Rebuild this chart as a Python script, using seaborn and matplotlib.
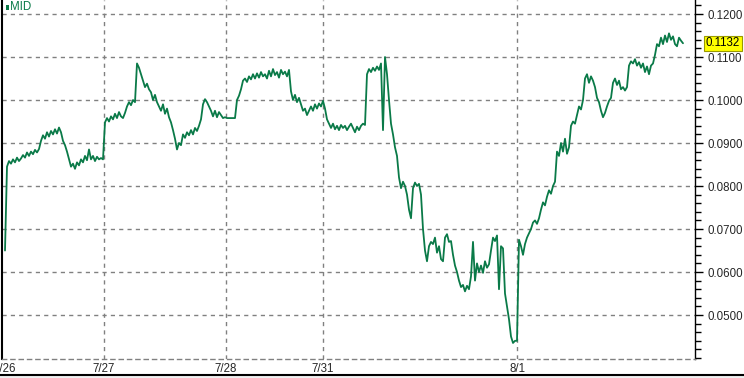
import numpy as np
import pandas as pd
import matplotlib
matplotlib.use("Agg")
import matplotlib.pyplot as plt
import matplotlib.transforms as mtransforms
from matplotlib import font_manager
from matplotlib.patches import Rectangle
from matplotlib.lines import Line2D
import seaborn as sns

# ---------------- data ----------------
series_name = "MID"
date_labels = ["7/26", "7/27", "7/28", "7/31", "8/1"]
date_positions = [0, 49.5, 110.5, 159, 256]   # sample index where each day starts
last_value = 0.1132
y_ticks = [0.05, 0.06, 0.07, 0.08, 0.09, 0.10, 0.11, 0.12]

mid = [
    0.0650, 0.0845, 0.0858, 0.0852, 0.0862, 0.0855, 0.0866, 0.0858, 0.0864, 0.0872,
    0.0866, 0.0878, 0.0870, 0.0880, 0.0874, 0.0884, 0.0878, 0.0886, 0.0905, 0.0918,
    0.0910, 0.0925, 0.0915, 0.0928, 0.0920, 0.0932, 0.0922, 0.0936, 0.0925, 0.0905,
    0.0895, 0.0880, 0.0862, 0.0845, 0.0852, 0.0840, 0.0855, 0.0848, 0.0862, 0.0855,
    0.0870, 0.0860, 0.0885, 0.0862, 0.0870, 0.0858, 0.0868, 0.0862, 0.0865, 0.0862,
    0.0948, 0.0958, 0.0950, 0.0962, 0.0955, 0.0968, 0.0958, 0.0972, 0.0962, 0.0958,
    0.0970, 0.0985, 0.0995, 0.0988, 0.1000, 0.0995, 0.1085, 0.1075, 0.1060, 0.1045,
    0.1030, 0.1038, 0.1025, 0.1018, 0.1000, 0.1012, 0.0995, 0.0985, 0.0975, 0.0990,
    0.0968, 0.0980, 0.0960, 0.0948, 0.0930, 0.0910, 0.0885, 0.0900, 0.0895, 0.0920,
    0.0912, 0.0925, 0.0918, 0.0930, 0.0920, 0.0935, 0.0928, 0.0940, 0.0955, 0.0990,
    0.1002, 0.0995, 0.0985, 0.0975, 0.0962, 0.0975, 0.0960, 0.0972, 0.0965, 0.0958,
    0.0960, 0.0958, 0.0958, 0.0958, 0.0958, 0.0958, 0.1000, 0.1010, 0.1025, 0.1045,
    0.1050, 0.1042, 0.1055, 0.1048, 0.1060, 0.1050, 0.1062, 0.1052, 0.1065, 0.1055,
    0.1060, 0.1050, 0.1068, 0.1055, 0.1072, 0.1058, 0.1065, 0.1052, 0.1070, 0.1060,
    0.1066, 0.1055, 0.1070, 0.1020, 0.1000, 0.1012, 0.0995, 0.1005, 0.0990, 0.0975,
    0.0980, 0.0965, 0.0975, 0.0985, 0.0975, 0.0990, 0.0980, 0.0992, 0.0985, 0.0998,
    0.0980, 0.0955, 0.0945, 0.0935, 0.0945, 0.0932, 0.0940, 0.0930, 0.0942, 0.0935,
    0.0940, 0.0930, 0.0938, 0.0945, 0.0935, 0.0925, 0.0938, 0.0930, 0.0940, 0.0945,
    0.0942, 0.1060, 0.1072, 0.1065, 0.1075, 0.1068, 0.1078, 0.1070, 0.1085, 0.0930,
    0.1100, 0.1060, 0.1000, 0.0945, 0.0920, 0.0890, 0.0870, 0.0820, 0.0795, 0.0810,
    0.0800, 0.0780, 0.0745, 0.0725, 0.0795, 0.0808, 0.0800, 0.0805, 0.0780, 0.0700,
    0.0650, 0.0625, 0.0660, 0.0670, 0.0665, 0.0680, 0.0645, 0.0660, 0.0630, 0.0625,
    0.0680, 0.0688, 0.0670, 0.0672, 0.0640, 0.0615, 0.0600, 0.0580, 0.0565, 0.0570,
    0.0555, 0.0568, 0.0560, 0.0590, 0.0670, 0.0580, 0.0620, 0.0600, 0.0615, 0.0598,
    0.0625, 0.0610, 0.0618, 0.0650, 0.0680, 0.0672, 0.0685, 0.0560, 0.0660, 0.0655,
    0.0550, 0.0520, 0.0490, 0.0450, 0.0435, 0.0440, 0.0440, 0.0675, 0.0660, 0.0640,
    0.0665, 0.0680, 0.0690, 0.0700, 0.0715, 0.0720, 0.0712, 0.0725, 0.0745, 0.0762,
    0.0755, 0.0775, 0.0790, 0.0782, 0.0800, 0.0810, 0.0880, 0.0870, 0.0900, 0.0880,
    0.0910, 0.0875, 0.0890, 0.0940, 0.0950, 0.0945, 0.0965, 0.0985, 0.0978, 0.1000,
    0.1050, 0.1060, 0.1040, 0.1055, 0.1045, 0.1030, 0.1005, 0.0995, 0.0975, 0.0960,
    0.0970, 0.0985, 0.0998, 0.1005, 0.1040, 0.1050, 0.1035, 0.1045, 0.1025, 0.1030,
    0.1022, 0.1030, 0.1080, 0.1090, 0.1085, 0.1095, 0.1080, 0.1088, 0.1075, 0.1085,
    0.1065, 0.1078, 0.1060, 0.1080, 0.1085, 0.1105, 0.1130, 0.1125, 0.1145, 0.1130,
    0.1150, 0.1135, 0.1155, 0.1140, 0.1148, 0.1130, 0.1125, 0.1145, 0.1138, 0.1132,
]

df = pd.DataFrame({"t": np.arange(len(mid)), "mid": mid})

# ---------------- style ----------------
sns.set_style("white")
avail = {f.name for f in font_manager.fontManager.ttflist}
if "Liberation Sans Narrow" in avail:
    fam, fs = "Liberation Sans Narrow", 10
else:
    fam, fs = "Liberation Sans", 8.3
plt.rcParams["font.family"] = [fam, "DejaVu Sans"]

line_color = "#0a7a48"
grid_color = "#808080"
W, H = 744, 378

fig = plt.figure(figsize=(W / 100, H / 100), dpi=100)
ax = fig.add_axes([2 / W, 19 / H, (695 - 2) / W, (359 - 0) / H])

sns.lineplot(data=df, x="t", y="mid", ax=ax, color=line_color, linewidth=1.3,
             legend=False, estimator=None)

ax.set_xlim(-1.5, 345)
ax.set_ylim(0.03977, 0.12326)

# grid
for yv in y_ticks:
    ax.axhline(yv, color=grid_color, lw=1.0, ls=(0, (3, 3)), zorder=0)
for xv in date_positions[1:]:
    ax.axvline(xv, color=grid_color, lw=1.0, ls=(0, (3, 3)), zorder=0)

# y axis on right
ax.yaxis.tick_right()
ax.set_yticks(y_ticks)
ax.set_yticklabels([f"{v:.4f}" for v in y_ticks], fontsize=fs)
ax.set_yticks(np.arange(0.040, 0.1235, 0.002), minor=True)
ax.tick_params(axis="y", which="major", direction="out", length=6, width=1,
               color="black", pad=3, right=True, left=False)
ax.tick_params(axis="y", which="minor", direction="out", length=4, width=1,
               color="black", right=True, left=False)

# x axis
ax.set_xticks(date_positions)
ax.set_xticklabels(date_labels, fontsize=fs)
ax.tick_params(axis="x", which="both", length=0, pad=3, bottom=True)
ax.set_xlabel("")
ax.set_ylabel("")

# spines
ax.spines["top"].set_visible(False)
ax.spines["left"].set_color("black")
ax.spines["left"].set_linewidth(1.5)
ax.spines["right"].set_visible(True)
ax.spines["right"].set_color("black")
ax.spines["right"].set_linewidth(1.0)
ax.spines["bottom"].set_color(grid_color)
ax.spines["bottom"].set_linestyle((0, (3, 3)))
ax.spines["bottom"].set_linewidth(1.0)

# last value label
trans = mtransforms.blended_transform_factory(ax.transAxes, ax.transData)
ax.text((706 - 2) / 693, last_value, f"{last_value:.4f}", transform=trans,
        ha="left", va="center", fontsize=fs, color="black", clip_on=False,
        bbox=dict(boxstyle="square,pad=0.15", facecolor="#ffff00",
                  edgecolor="#999900", linewidth=0.8))

# legend marker at top-left
fig.patches.append(Rectangle((6 / W, 1 - 10 / H), 2.5 / W, 5 / H,
                             transform=fig.transFigure, facecolor=line_color,
                             edgecolor="none"))
fig.text(10 / W, 1 - 7 / H, series_name, color=line_color, fontsize=fs,
         ha="left", va="center")

# window bottom border
fig.patches.append(Rectangle((0, 0), 1, 3 / H, transform=fig.transFigure,
                             facecolor="#f0f0f0", edgecolor="none"))
fig.lines.append(Line2D([0, 1], [3.5 / H, 3.5 / H], transform=fig.transFigure,
                        color="black", lw=1.5))

fig.savefig("out.png", dpi=100)
